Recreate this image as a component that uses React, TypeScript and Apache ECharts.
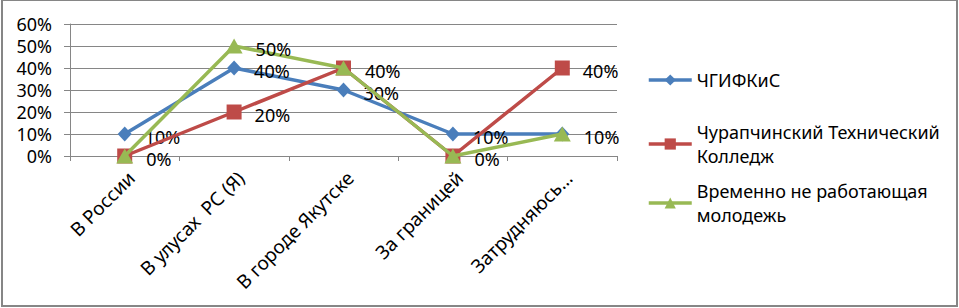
import React, { useEffect, useRef } from "react";
import * as echarts from "echarts";

const categories = ["В России", "В улусах  РС (Я)", "В городе Якутске", "За границей", "Затрудняюсь…"];
const seriesNames = ["ЧГИФКиС", "Чурапчинский Технический Колледж", "Временно не работающая молодежь"];
const legendLabels = ["ЧГИФКиС", "Чурапчинский Технический\nКолледж", "Временно не работающая\nмолодежь"];
const chgifkis = [0.1, 0.4, 0.3, 0.1, 0.1];
const churapcha = [0, 0.2, 0.4, 0, 0.4];
const unemployed = [0, 0.5, 0.4, 0, 0.1];
const yTicks = [0, 0.1, 0.2, 0.3, 0.4, 0.5, 0.6];

const colors = ["#4A7EBB", "#BE4B48", "#98B954"];
const symbols = ["diamond", "rect", "triangle"];
const symbolSizes: any[] = [[14, 15], 15, [17, 15]];
const FONT = "'Noto Sans', 'Open Sans', sans-serif";

export default function App() {
  const ref = useRef<HTMLDivElement>(null);
  useEffect(() => {
    if (!ref.current) return;
    const chart = echarts.init(ref.current, undefined, { renderer: "svg" });
    const data = [chgifkis, churapcha, unemployed];
    const pct = (v: number) => Math.round(v * 100) + "%";
    const legendTops = [68, 108, 167];
    // identical labels drawn on top of each other: draw only the topmost one
    const seriesData = data.map((arr, i) =>
      arr.map((v, j) => {
        const covered = data.some((other, k) => k > i && other[j] === v);
        return covered ? { value: v, label: { show: false } } : { value: v };
      })
    );
    chart.setOption({
      animation: false,
      textStyle: { fontFamily: FONT },
      grid: { left: 70, right: 342, top: 24, bottom: 152, containLabel: false },
      xAxis: {
        type: "category",
        data: categories,
        boundaryGap: true,
        axisLine: { lineStyle: { color: "#868686", width: 1 } },
        axisTick: { show: true, length: 5, alignWithLabel: false, lineStyle: { color: "#868686" } },
        axisLabel: {
          interval: 0,
          rotate: 45,
          margin: 12,
          color: "#000",
          fontSize: 19,
          fontFamily: FONT,
          verticalAlign: "top",
        },
      },
      yAxis: {
        type: "value",
        min: yTicks[0],
        max: yTicks[yTicks.length - 1],
        interval: 0.1,
        axisLine: { show: true, lineStyle: { color: "#868686" } },
        axisTick: { show: true, length: 6, lineStyle: { color: "#868686" } },
        splitLine: { lineStyle: { color: "#868686", width: 1 } },
        axisLabel: { formatter: pct, color: "#000", fontSize: 18, margin: 18, fontFamily: FONT },
      },
      legend: seriesNames.map((n, i) => ({
        data: [n],
        orient: "vertical",
        left: 647,
        top: legendTops[i],
        padding: 0,
        itemWidth: 43,
        itemHeight: 14,
        lineStyle: { width: 3.5 },
        formatter: () => legendLabels[i],
        textStyle: {
          fontSize: 18,
          color: "#000",
          fontFamily: FONT,
          lineHeight: 24,
          padding: i === 0 ? 0 : [24, 0, 0, 0],
        },
        selectedMode: false,
      })),
      graphic: [
        {
          type: "rect",
          shape: { x: 2, y: 0, width: 955, height: 306 },
          style: { fill: "none", stroke: "#868686", lineWidth: 2 },
          silent: true,
        },
      ],
      series: seriesNames.map((n, i) => ({
        name: n,
        type: "line",
        data: seriesData[i],
        symbol: symbols[i],
        symbolSize: symbolSizes[i],
        showAllSymbol: true,
        lineStyle: { color: colors[i], width: 3.5 },
        itemStyle: { color: colors[i] },
        label: {
          show: true,
          position: "right",
          distance: 13,
          offset: [0, 3],
          formatter: (p: any) => pct(p.value),
          color: "#000",
          fontSize: 18,
          fontFamily: FONT,
        },
        z: 2 + i,
      })),
    });
    return () => chart.dispose();
  }, []);
  return <div ref={ref} style={{ position: "fixed", left: 0, top: 0, width: 959, height: 308, background: "#fff" }} />;
}
